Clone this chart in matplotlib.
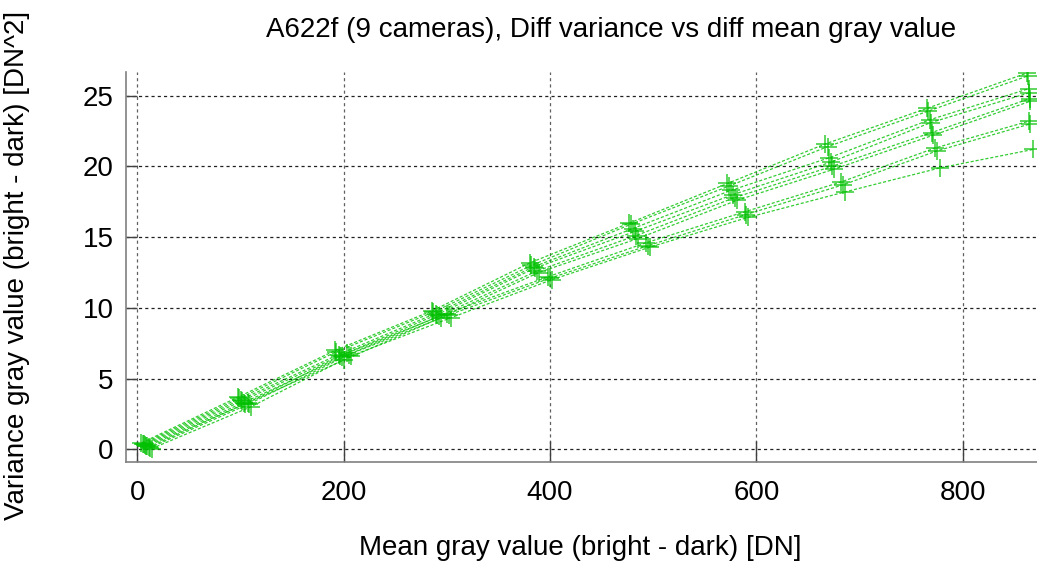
import matplotlib
matplotlib.use("Agg")
import matplotlib.pyplot as plt

plt.rcParams['font.family'] = ['Liberation Sans', 'DejaVu Sans']

# Mean gray value (bright - dark) [DN] for each camera, one entry per exposure step
mean_cam = [
    [4, 98, 192, 286, 381, 477, 572, 667, 765, 862],
    [5, 99, 193, 287, 382, 478, 573, 669, 766, 863],
    [6, 100, 195, 289, 384, 480, 575, 670, 768, 864],
    [7, 101, 196, 290, 385, 482, 577, 672, 769, 864],
    [8, 103, 198, 292, 387, 483, 579, 673, 770, 865],
    [9, 104, 200, 294, 389, 485, 581, 675, 771, 865],
    [11, 107, 203, 300, 398, 493, 589, 682, 773, 864],
    [12, 108, 205, 302, 400, 495, 590, 684, 775, 865],
    [14, 110, 207, 304, 402, 497, 592, 686, 778, 868],
]

# Variance gray value (bright - dark) [DN^2] for each camera
var_cam = [
    [0.45, 3.7, 7.0, 9.8, 13.2, 16.0, 18.8, 21.6, 24.1, 26.6],
    [0.40, 3.6, 6.9, 9.7, 13.0, 15.9, 18.6, 21.4, 23.9, 26.4],
    [0.35, 3.5, 6.7, 9.6, 12.9, 15.6, 18.3, 20.6, 23.3, 25.5],
    [0.30, 3.4, 6.6, 9.5, 12.8, 15.4, 18.0, 20.3, 23.1, 25.2],
    [0.25, 3.3, 6.5, 9.4, 12.6, 15.1, 17.8, 20.0, 22.4, 24.8],
    [0.20, 3.2, 6.3, 9.3, 12.5, 14.9, 17.6, 19.8, 22.2, 24.6],
    [0.15, 3.3, 6.8, 9.6, 12.2, 14.6, 16.8, 18.9, 21.3, 23.2],
    [0.10, 3.2, 6.7, 9.5, 12.1, 14.4, 16.6, 18.7, 21.1, 23.0],
    [0.05, 3.0, 6.6, 9.3, 12.0, 14.3, 16.4, 18.2, 19.9, 21.2],
]

x_ticks = [0, 200, 400, 600, 800]
y_ticks = [0, 5, 10, 15, 20, 25]

title = "A622f (9 cameras), Diff variance vs diff mean gray value"
x_label = "Mean gray value (bright - dark) [DN]"
y_label = "Variance gray value (bright - dark) [DN^2]"

W, H = 1037, 566
fig = plt.figure(figsize=(W / 100, H / 100), dpi=100)
left, bottom, top = 126, 461.7, 72
ax = fig.add_axes([left / W, 1 - bottom / H, (W - left) / W, (bottom - top) / H])

green = '#00c000'
for xs, ys in zip(mean_cam, var_cam):
    ax.plot(xs, ys, color=green, lw=0.9, ls=(0, (2.5, 1.5)), alpha=0.8,
            marker='+', markersize=13, markeredgewidth=1.1,
            markeredgecolor=green, zorder=3)

ax.set_xlim(-11, 872)
ax.set_ylim(-0.88, 26.68)
ax.set_xticks(x_ticks)
ax.set_yticks(y_ticks)

for s in ('top', 'right'):
    ax.spines[s].set_visible(False)
for s in ('left', 'bottom'):
    ax.spines[s].set_color('#808080')
    ax.spines[s].set_linewidth(1.2)

ax.tick_params(axis='x', direction='in', length=15, width=1, color='#404040',
               labelsize=20, pad=13)
ax.tick_params(axis='y', direction='in', length=8, width=1, color='#404040',
               labelsize=20, pad=9)

for v in y_ticks:
    ax.axhline(v, color='#202020', lw=0.9, ls=(0, (2.5, 2.5)), zorder=1)
for v in x_ticks:
    ax.axvline(v, color='#606060', lw=0.9, ls=(0, (2.5, 2.5)), zorder=1)

fig.text(611 / W, 1 - 30 / H, title, ha='center', va='center', fontsize=20)
fig.text(580 / W, 1 - 548 / H, x_label, ha='center', va='center', fontsize=20)
fig.text(17 / W, 1 - 265 / H, y_label, ha='center', va='center', rotation=90,
         fontsize=20)

fig.savefig('out.png', dpi=100)
